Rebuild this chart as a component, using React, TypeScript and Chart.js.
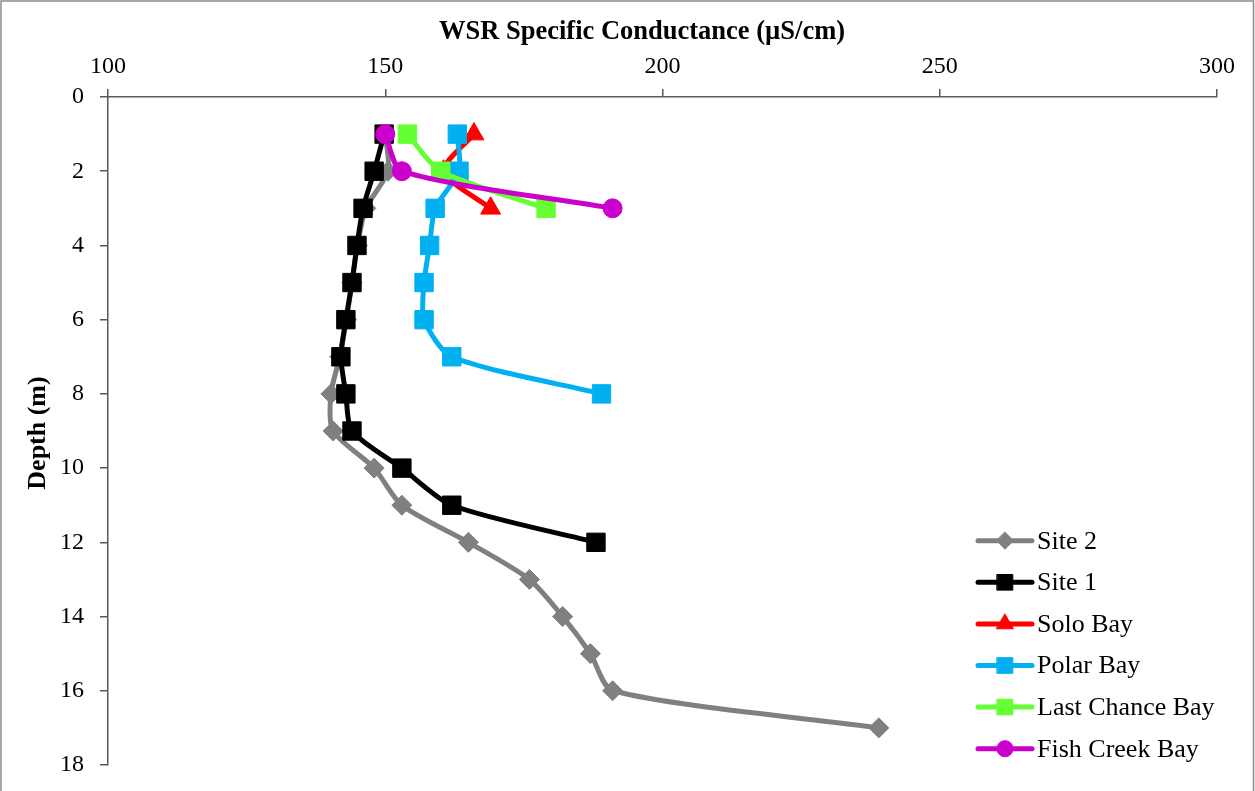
import React, { useEffect, useRef } from "react";
import { Chart, registerables } from "chart.js";

Chart.register(...registerables);

const xTitle = "WSR Specific Conductance (µS/cm)";
const yTitle = "Depth (m)";

const seriesNames = ["Site 2", "Site 1", "Solo Bay", "Polar Bay", "Last Chance Bay", "Fish Creek Bay"];

const site2Depth = [1, 2, 3, 4, 5, 6, 7, 8, 9, 10, 11, 12, 13, 14, 15, 16, 17];
const site2Cond = [150, 150.5, 146.5, 145, 144, 143, 141.8, 140.2, 140.6, 148, 153, 165, 176, 182, 187, 191, 239];

const site1Depth = [1, 2, 3, 4, 5, 6, 7, 8, 9, 10, 11, 12];
const site1Cond = [149.8, 148, 146, 144.9, 144, 142.9, 142, 142.9, 144, 153, 162, 188];

const soloDepth = [1, 2, 3];
const soloCond = [166, 160.5, 169];

const polarDepth = [1, 2, 3, 4, 5, 6, 7, 8];
const polarCond = [163, 163.3, 159, 158, 157, 157, 162, 189];

const lastChanceDepth = [1, 2, 3];
const lastChanceCond = [154, 160, 179];

const fishCreekDepth = [1, 2, 3];
const fishCreekCond = [150, 153, 191];

const colors = ["#808080", "#000000", "#FF0000", "#00B0F0", "#66FF33", "#CC00CC"];
const pointStyles = ["rectRot", "rect", "triangle", "rect", "rect", "circle"];
const pointRadii = [10, 13, 11.5, 13, 13, 9.5];

const xMin = 100;
const xMax = 300;
const xStep = 50;
const yMin = 0;
const yMax = 18;
const yStep = 2;

const FONT = '"Liberation Serif", "Times New Roman", serif';

function drawMarker(ctx: CanvasRenderingContext2D, style: string, x: number, y: number, r: number) {
  ctx.beginPath();
  if (style === "circle") {
    ctx.arc(x, y, r, 0, Math.PI * 2);
  } else if (style === "rect") {
    const s = Math.SQRT1_2 * r;
    ctx.rect(x - s, y - s, 2 * s, 2 * s);
  } else if (style === "rectRot") {
    ctx.moveTo(x, y - r);
    ctx.lineTo(x + r, y);
    ctx.lineTo(x, y + r);
    ctx.lineTo(x - r, y);
    ctx.closePath();
  } else if (style === "triangle") {
    const a = Math.PI / 2;
    ctx.moveTo(x + Math.cos(-a) * r, y + Math.sin(-a) * r);
    ctx.lineTo(x + Math.cos(-a + (2 * Math.PI) / 3) * r, y + Math.sin(-a + (2 * Math.PI) / 3) * r);
    ctx.lineTo(x + Math.cos(-a + (4 * Math.PI) / 3) * r, y + Math.sin(-a + (4 * Math.PI) / 3) * r);
    ctx.closePath();
  }
  ctx.fill();
  ctx.stroke();
}

const overlayPlugin = {
  id: "overlay",
  beforeDraw(chart: any) {
    const ctx = chart.ctx as CanvasRenderingContext2D;
    ctx.save();
    ctx.fillStyle = "#ffffff";
    ctx.fillRect(0, 0, chart.width, chart.height);
    ctx.strokeStyle = "#8a8a8a";
    ctx.lineWidth = 1.5;
    ctx.strokeRect(1, 1, 1252.5, chart.height + 20);
    ctx.restore();
  },
  afterDraw(chart: any) {
    const ctx = chart.ctx as CanvasRenderingContext2D;
    ctx.save();
    ctx.fillStyle = "#000";
    ctx.textAlign = "center";
    ctx.textBaseline = "middle";
    ctx.font = `bold 26.5px ${FONT}`;
    ctx.fillText(xTitle, 642, 32);
    ctx.save();
    ctx.translate(38, 433);
    ctx.rotate(-Math.PI / 2);
    ctx.font = `bold 26px ${FONT}`;
    ctx.fillText(yTitle, 0, 0);
    ctx.restore();

    // legend
    const startY = 540.7;
    const stepY = 41.6;
    const x0 = 978;
    const x1 = 1032;
    for (let i = 0; i < seriesNames.length; i++) {
      const y = startY + i * stepY;
      ctx.strokeStyle = colors[i];
      ctx.fillStyle = colors[i];
      ctx.lineWidth = 5;
      ctx.lineCap = "round";
      ctx.beginPath();
      ctx.moveTo(x0, y);
      ctx.lineTo(x1, y);
      ctx.stroke();
      ctx.lineWidth = 1;
      drawMarker(ctx, pointStyles[i], (x0 + x1) / 2, y, pointRadii[i] * 0.85);
      ctx.fillStyle = "#000";
      ctx.textAlign = "left";
      ctx.textBaseline = "middle";
      ctx.font = `26px ${FONT}`;
      ctx.fillText(seriesNames[i], 1037, y + 1);
    }
    ctx.restore();
  },
};

function toPoints(xs: number[], ys: number[]) {
  return xs.map((x, i) => ({ x, y: ys[i] }));
}

export default function App() {
  const ref = useRef<HTMLCanvasElement | null>(null);

  useEffect(() => {
    if (!ref.current) return;
    const allData = [
      toPoints(site2Cond, site2Depth),
      toPoints(site1Cond, site1Depth),
      toPoints(soloCond, soloDepth),
      toPoints(polarCond, polarDepth),
      toPoints(lastChanceCond, lastChanceDepth),
      toPoints(fishCreekCond, fishCreekDepth),
    ];
    const datasets = allData.map((data, i) => ({
      label: seriesNames[i],
      data,
      showLine: true,
      tension: 0.25,
      borderColor: colors[i],
      backgroundColor: colors[i],
      borderWidth: 5,
      pointStyle: pointStyles[i],
      pointRadius: pointRadii[i],
      pointHoverRadius: pointRadii[i],
      pointBorderColor: colors[i],
      pointBackgroundColor: colors[i],
      pointBorderWidth: 1,
      order: seriesNames.length - 1 - i,
      clip: false as any,
    }));

    const gridCfg = {
      drawOnChartArea: false,
      drawTicks: true,
      tickLength: 8,
      color: "#595959",
      lineWidth: 1.5,
    };

    const chart = new Chart(ref.current, {
      type: "scatter",
      data: { datasets },
      plugins: [overlayPlugin],
      options: {
        animation: false,
        responsive: false,
        maintainAspectRatio: false,
        layout: { padding: { left: 0, top: 0, right: 38, bottom: 26 } },
        plugins: {
          legend: { display: false },
          tooltip: { enabled: false },
          title: { display: false },
        },
        scales: {
          x: {
            type: "linear",
            position: "top",
            min: xMin,
            max: xMax,
            ticks: {
              stepSize: xStep,
              color: "#000",
              font: { family: FONT, size: 24 },
              padding: 8,
              maxRotation: 0,
            },
            grid: gridCfg,
            border: { color: "#595959", width: 1.5 },
            afterFit: (s: any) => {
              s.height = 97;
              s.paddingLeft = 0;
              s.paddingRight = 0;
            },
          },
          y: {
            type: "linear",
            reverse: true,
            min: yMin,
            max: yMax,
            ticks: {
              stepSize: yStep,
              color: "#000",
              font: { family: FONT, size: 24 },
              padding: 16,
            },
            grid: gridCfg,
            border: { color: "#595959", width: 1.5 },
            afterFit: (s: any) => {
              s.width = 108;
              s.paddingTop = 0;
              s.paddingBottom = 0;
            },
          },
        },
      } as any,
    });
    return () => chart.destroy();
  }, []);

  return (
    <div style={{ position: "fixed", left: 0, top: 0, width: 1255, height: 791, overflow: "hidden", background: "#fff" }}>
      <canvas ref={ref} width={1255} height={791} style={{ width: 1255, height: 791, display: "block" }} />
    </div>
  );
}
